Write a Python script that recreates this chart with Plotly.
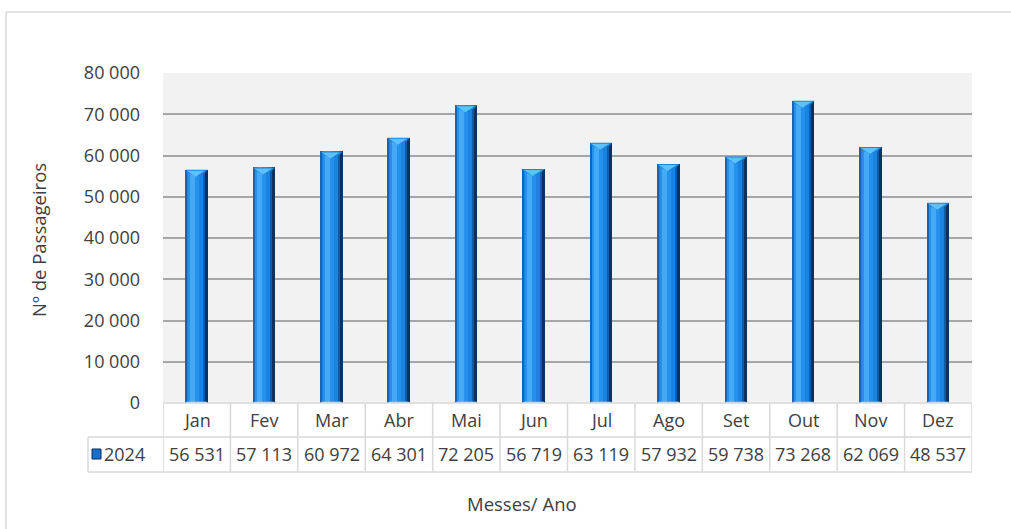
import plotly.graph_objects as go

# ---------------- data ----------------
months = ["Jan", "Fev", "Mar", "Abr", "Mai", "Jun", "Jul", "Ago", "Set", "Out", "Nov", "Dez"]
passengers_2024 = [56531, 57113, 60972, 64301, 72205, 56719, 63119, 57932, 59738, 73268, 62069, 48537]
series_name = "2024"
y_ticks = [0, 10000, 20000, 30000, 40000, 50000, 60000, 70000, 80000]
y_tick_labels = ["0", "10 000", "20 000", "30 000", "40 000", "50 000", "60 000", "70 000", "80 000"]
value_labels = ["56 531", "57 113", "60 972", "64 301", "72 205", "56 719", "63 119",
                "57 932", "59 738", "73 268", "62 069", "48 537"]

# ---------------- layout geometry (pixels) ----------------
W, H = 1011, 529
PL, PR, PT, PB = 163, 972, 73, 403   # plot area on screen
L, T = PL, PT
R = W - PR
B = H - PB
PW, PH = PR - PL, PB - PT
YMAX = 80000
FONT = "Open Sans"
TXT = "#404040"
BORDER = "#D9D9D9"

def px(xp):
    return (xp - PL) / PW

def py(yp):
    return (PB - yp) / PH

x = list(range(len(months)))
col_px = PW / len(months)
bw = 22 / col_px           # bar width in data units
half = bw / 2
unit = 1 / col_px          # one pixel in x data units
yunit = YMAX / PH          # one pixel in y data units

fig = go.Figure()

# simulated cylinder shading: overlaid bars of decreasing width
layers = [
    (0, 22, "#0A3260"),
    (0, 19, "#115CAA"),
    (0, 17, "#1A82E0"),
    (2, 13, "#2591EC"),
    (4, 9, "#44AAF5"),
    (0, 1.2, "#1465B8"),
]
for i, (a, b, c) in enumerate(layers):
    fig.add_trace(go.Bar(
        x=x, y=passengers_2024,
        width=(b - a) * unit, offset=-half + a * unit,
        marker=dict(color=c, line=dict(width=0)),
        name=series_name, showlegend=False, hoverinfo="skip" if i else None,
    ))

shapes = []
# bevel on top of each bar
for xi, v in zip(x, passengers_2024):
    x0, x1 = xi - half, xi + half
    shapes.append(dict(type="path", xref="x", yref="y", layer="above",
                       path=f"M {x0},{v} L {x1},{v} L {x1 - 3*unit},{v - 3*yunit} L {xi},{v - 7*yunit} L {x0 + 2*unit},{v - 3*yunit} Z",
                       fillcolor="#1C84DC", line=dict(width=0)))
    shapes.append(dict(type="path", xref="x", yref="y", layer="above",
                       path=f"M {x0 + 1*unit},{v - 1*yunit} L {x1 - 3*unit},{v - 1*yunit} L {xi - 1*unit},{v - 7*yunit} Z",
                       fillcolor="#5CC2F9", line=dict(width=0)))
    shapes.append(dict(type="line", xref="x", yref="y", layer="above",
                       x0=x0 + unit, x1=x1 - unit, y0=0.6*yunit, y1=0.6*yunit,
                       line=dict(color="#8CD3FA", width=1.5)))

# table borders
lw = 1.5
shapes.append(dict(type="line", xref="paper", yref="paper", x0=0, x1=1, y0=py(403), y1=py(403), line=dict(color=BORDER, width=lw)))
for yy in (437, 472):
    shapes.append(dict(type="line", xref="paper", yref="paper", x0=px(88), x1=1, y0=py(yy), y1=py(yy), line=dict(color=BORDER, width=lw)))
shapes.append(dict(type="line", xref="paper", yref="paper", x0=px(88), x1=px(88), y0=py(437), y1=py(472), line=dict(color=BORDER, width=lw)))
for k in range(len(months) + 1):
    shapes.append(dict(type="line", xref="x", yref="paper", x0=k - 0.5, x1=k - 0.5, y0=py(403), y1=py(472), line=dict(color=BORDER, width=lw)))

# legend key
shapes.append(dict(type="rect", xref="paper", yref="paper", x0=px(92), x1=px(101), y0=py(459), y1=py(449),
                   fillcolor="#1670CB", line=dict(color="#0A2F5A", width=1)))
# outer chart border (top and left)
shapes.append(dict(type="line", xref="paper", yref="paper", x0=px(6), x1=px(1015), y0=py(12), y1=py(12), line=dict(color=BORDER, width=1.5)))
shapes.append(dict(type="line", xref="paper", yref="paper", x0=px(6), x1=px(6), y0=py(12), y1=py(535), line=dict(color=BORDER, width=1.5)))

annotations = []
for xi, m, lab in zip(x, months, value_labels):
    annotations.append(dict(x=xi, y=py(420), xref="x", yref="paper", text=m, showarrow=False,
                            font=dict(family=FONT, size=18, color=TXT), xanchor="center", yanchor="middle"))
    annotations.append(dict(x=xi, y=py(454), xref="x", yref="paper", text=lab, showarrow=False,
                            font=dict(family=FONT, size=18, color=TXT), xanchor="center", yanchor="middle"))
annotations.append(dict(x=px(102), y=py(454), xref="paper", yref="paper", text=series_name, showarrow=False,
                        font=dict(family=FONT, size=18, color=TXT), xanchor="left", yanchor="middle"))
annotations.append(dict(x=px(38), y=py(240), xref="paper", yref="paper", text="Nº de Passageiros", showarrow=False,
                        textangle=-90, font=dict(family=FONT, size=18.5, color=TXT), xanchor="center", yanchor="middle"))
annotations.append(dict(x=px(522), y=py(503), xref="paper", yref="paper", text="Messes/ Ano", showarrow=False,
                        font=dict(family=FONT, size=18.5, color=TXT), xanchor="center", yanchor="middle"))

fig.update_layout(
    width=W, height=H,
    margin=dict(l=L, r=R, t=T, b=B, pad=0),
    paper_bgcolor="white", plot_bgcolor="#F2F2F2",
    barmode="overlay", bargap=0,
    showlegend=False, hovermode=False,
    shapes=shapes, annotations=annotations,
    font=dict(family=FONT, color=TXT),
    xaxis=dict(range=[-0.5, len(months) - 0.5], showticklabels=False, showgrid=False,
               zeroline=False, showline=False, ticks="", fixedrange=True),
    yaxis=dict(range=[0, YMAX], tickvals=y_ticks, ticktext=y_tick_labels,
               showgrid=True, gridcolor="#A6A6A6", gridwidth=1.5, zeroline=False,
               showline=False, ticks="", ticklabelstandoff=22,
               tickfont=dict(family=FONT, size=18, color=TXT), fixedrange=True),
)

fig.write_html("out.html", config={"displayModeBar": False},
               post_script="document.body.style.margin='0px';")
